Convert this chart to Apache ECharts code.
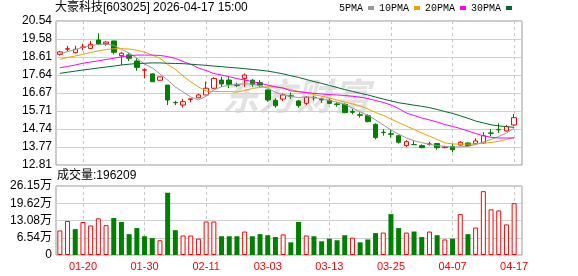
<!DOCTYPE html>
<html><head><meta charset="utf-8">
<script src="https://cdn.jsdelivr.net/npm/echarts@6/dist/echarts.min.js"></script>
<style>html,body{margin:0;padding:0;background:#fff}#c{width:578px;height:276px}</style>
</head><body><div id="c"></div>
<script>
const stockTitle = '大豪科技[603025] 2026-04-17 15:00';
const volTitle = '成交量:196209';
const maNames = ['5PMA', '10PMA', '20PMA', '30PMA'];
const dates = ['01-15','01-16','01-19','01-20','01-21','01-22','01-23','01-26','01-27','01-28',
 '01-29','01-30','02-02','02-03','02-04','02-05','02-06','02-09','02-10','02-11',
 '02-12','02-13','02-24','02-25','02-26','02-27','03-02','03-03','03-04','03-05',
 '03-06','03-09','03-10','03-11','03-12','03-13','03-16','03-17','03-18','03-19',
 '03-20','03-23','03-24','03-25','03-26','03-27','03-30','03-31','04-01','04-02',
 '04-03','04-07','04-08','04-09','04-10','04-13','04-14','04-15','04-16','04-17'];
const openP = [18.75,19.03,18.84,19.12,19.07,19.52,19.32,19.47,18.68,18.72,
 18.39,17.90,17.70,17.36,17.10,16.17,16.03,16.33,16.42,16.57,
 16.93,17.37,17.37,17.11,17.46,17.36,17.23,16.84,16.28,16.35,
 16.52,16.25,16.12,16.44,16.34,16.28,16.09,16.07,15.68,15.51,
 15.46,14.99,14.57,14.49,14.38,13.85,13.91,13.85,13.92,13.96,
 13.74,13.81,13.88,13.99,13.96,13.99,14.53,14.72,14.64,14.96];
const closeP = [18.88,19.05,19.02,19.14,19.29,19.30,19.41,18.86,18.81,18.54,
 18.05,17.92,17.28,17.54,16.30,16.15,16.21,16.36,16.57,16.93,
 17.46,17.16,17.14,17.09,17.64,17.14,17.10,16.30,15.99,16.57,
 16.50,16.00,16.45,16.42,16.31,16.12,16.06,15.62,15.64,15.48,
 15.14,14.28,14.55,14.46,14.03,14.06,13.90,13.74,13.94,13.74,
 13.79,13.63,14.03,13.85,14.10,14.38,14.51,14.70,14.87,15.35];
const lowP = [18.68,18.89,18.81,18.97,19.04,19.29,19.21,18.75,18.18,18.39,
 17.87,17.46,17.26,17.34,16.03,16.03,15.89,16.18,16.39,16.57,
 16.89,17.01,16.93,16.99,17.01,17.01,17.01,16.21,15.89,16.25,
 16.35,15.89,16.03,16.28,16.14,16.07,15.94,15.59,15.53,15.35,
 15.10,14.19,14.38,14.28,13.96,13.78,13.88,13.71,13.85,13.63,
 13.71,13.49,13.85,13.78,13.88,13.96,14.35,14.54,14.60,14.92];
const highP = [18.94,19.21,19.21,19.32,19.47,19.88,19.47,19.47,18.89,18.81,
 18.54,18.00,17.72,17.55,17.10,16.26,16.35,16.39,16.64,17.28,
 17.52,17.55,17.52,17.23,17.73,17.43,17.37,16.84,16.39,16.66,
 16.71,16.30,16.50,16.53,16.42,16.39,16.18,16.12,15.82,15.64,
 15.53,15.05,14.73,14.69,14.42,14.14,14.10,13.92,14.06,13.99,
 13.85,13.96,14.10,14.03,14.24,14.57,14.74,15.05,14.96,15.55];
const volume = [93000,129000,98000,125000,112000,139000,113000,140000,125000,79000,
 102000,71000,64000,56000,236000,94000,74000,74000,62000,127000,
 127000,71000,71000,71000,89000,71000,79000,75000,68000,78000,
 48000,125000,74000,71000,52000,62000,56000,75000,66000,48000,
 59000,83000,85000,155000,102000,85000,89000,68000,89000,75000,
 59000,62000,155000,79000,104000,242000,173000,169000,116000,196209];
const ma5 = [18.77,18.90,19.00,19.13,19.21,19.29,19.29,19.24,19.02,18.82,
 18.55,18.23,18.02,17.70,17.37,17.00,16.73,16.46,16.30,16.50,
 16.84,17.01,17.10,17.14,17.17,17.16,17.07,16.93,16.71,16.57,
 16.49,16.43,16.47,16.43,16.37,16.27,16.19,16.07,15.87,15.66,
 15.47,15.23,14.96,14.69,14.47,14.26,14.11,14.01,13.92,13.85,
 13.80,13.78,13.78,13.81,13.91,14.05,14.18,14.34,14.53,14.78];
const ma10 = [18.48,18.58,18.66,18.75,18.85,18.93,19.01,19.05,19.05,19.04,
 18.97,18.87,18.71,18.54,18.21,17.94,17.59,17.27,17.00,16.78,
 16.76,16.75,16.75,16.73,16.81,16.92,16.97,17.01,17.00,16.94,
 16.86,16.76,16.69,16.59,16.50,16.41,16.30,16.19,16.09,15.98,
 15.82,15.63,15.47,15.28,15.09,14.90,14.72,14.53,14.36,14.18,
 14.00,13.94,13.93,13.93,13.94,13.98,14.02,14.08,14.18,14.30];
const ma20 = [18.03,18.10,18.18,18.27,18.34,18.40,18.47,18.54,18.62,18.67,
 18.71,18.71,18.71,18.69,18.63,18.53,18.37,18.21,18.02,17.88,
 17.72,17.64,17.55,17.45,17.37,17.29,17.20,17.10,17.01,16.94,
 16.79,16.74,16.70,16.66,16.62,16.59,16.57,16.54,16.50,16.45,
 16.38,16.27,16.17,16.03,15.84,15.60,15.47,15.33,15.23,15.12,
 14.98,14.88,14.77,14.64,14.50,14.38,14.30,14.26,14.26,14.26];
const ma30 = [17.73,17.79,17.85,17.91,17.96,18.02,18.07,18.12,18.18,18.22,
 18.26,18.27,18.29,18.29,18.27,18.26,18.25,18.22,18.19,18.16,
 18.12,18.09,18.05,18.02,17.98,17.94,17.90,17.85,17.78,17.70,
 17.60,17.51,17.40,17.29,17.19,17.08,16.97,16.86,16.76,16.66,
 16.57,16.46,16.35,16.25,16.15,16.09,16.02,15.96,15.89,15.79,
 15.68,15.58,15.45,15.32,15.17,15.07,14.97,14.91,14.87,14.83];
const priceTicks = ['12.81','13.77','14.74','15.71','16.67','17.64','18.61','19.58','20.54'];
const volTicks = ['0','6.54万','13.08万','19.62万','26.15万'];
const priceMin = 12.81, priceMax = 20.54, volMax = 261500;

const FONT = '"Liberation Sans","Noto Sans CJK SC",sans-serif';
const chart = echarts.init(document.getElementById('c'), null, {renderer: 'canvas'});
const candleData = dates.map((d, i) => [openP[i], closeP[i], lowP[i], highP[i]]);
const volData = volume.map((v, i) => {
  const up = i === 0 ? true : closeP[i] >= closeP[i - 1];
  return {value: v, itemStyle: up ? {color: '#fff', borderColor: '#ff0000', borderWidth: 1}
                                   : {color: '#008000', borderColor: '#008000', borderWidth: 0}};
});
const showIdx = (i) => i % 8 === 3;
const dashSplit = {show: true, interval: showIdx, alignWithLabel: true, lineStyle: {color: '#c8c8c8', type: [3, 3], width: 1}};
const maColors = ['#9a9a9a', '#f0a000', '#ff00ff', '#006a33'];
const maData = [ma5, ma10, ma20, ma30];

chart.setOption({
  animation: false,
  backgroundColor: '#fff',
  title: [
    {text: stockTitle, left: 55, top: 2, padding: 0, textStyle: {fontSize: 12, fontWeight: 'normal', color: '#000', fontFamily: FONT}},
    {text: volTitle, left: 57, top: 170, padding: 0, textStyle: {fontSize: 12, fontWeight: 'normal', color: '#000', fontFamily: FONT}}
  ],
  legend: {
    data: maNames, left: 339, top: 3, padding: 0, align: 'right', icon: 'rect',
    itemWidth: 6, itemHeight: 4, itemGap: 5,
    textStyle: {fontSize: 10, color: '#000', fontFamily: '"Liberation Mono",monospace'}
  },
  graphic: [{
    type: 'text', left: 222, top: 77, silent: true, z: 0,
    style: {text: '东方财富', font: 'italic bold 37px "Noto Sans CJK SC"', fill: '#e2e2e2'}
  }],
  grid: [
    {left: 56, top: 21, width: 466, height: 144, show: true, borderColor: '#999', borderWidth: 1, backgroundColor: 'transparent'},
    {left: 56, top: 21, width: 462, height: 144},
    {left: 56, top: 186, width: 466, height: 69, show: true, borderColor: '#999', borderWidth: 1, backgroundColor: 'transparent'},
    {left: 56, top: 186, width: 462, height: 69}
  ],
  xAxis: [
    {type: 'category', gridIndex: 0, data: dates, show: false},
    {type: 'category', gridIndex: 1, data: dates, axisLine: {show: false}, axisTick: {show: false}, axisLabel: {show: false}, splitLine: dashSplit},
    {type: 'category', gridIndex: 2, data: dates, show: false},
    {type: 'category', gridIndex: 3, data: dates, axisLine: {show: false}, axisTick: {show: false},
     axisLabel: {interval: showIdx, color: '#ff0000', fontSize: 11, fontFamily: FONT, margin: 6}, splitLine: dashSplit}
  ],
  yAxis: [
    {type: 'value', gridIndex: 0, min: 0, max: priceTicks.length - 1, interval: 1,
     axisLine: {show: false}, axisTick: {show: false},
     axisLabel: {formatter: (v) => priceTicks[Math.round(v)], color: '#000', fontSize: 12, fontFamily: FONT, margin: 4},
     splitLine: {lineStyle: {color: '#cfcfcf', width: 1}}},
    {type: 'value', gridIndex: 1, min: priceMin, max: priceMax, show: false},
    {type: 'value', gridIndex: 2, min: 0, max: volTicks.length - 1, interval: 1,
     axisLine: {show: false}, axisTick: {show: false},
     axisLabel: {formatter: (v) => volTicks[Math.round(v)], color: '#000', fontSize: 12, fontFamily: FONT, margin: 4},
     splitLine: {lineStyle: {color: '#cfcfcf', width: 1}}},
    {type: 'value', gridIndex: 3, min: 0, max: volMax, show: false}
  ],
  series: [
    {type: 'candlestick', xAxisIndex: 1, yAxisIndex: 1, data: candleData, barWidth: 5,
     itemStyle: {color: '#ffffff', color0: '#008000', borderColor: '#ff0000', borderColor0: '#008000', borderWidth: 1}},
    ...maNames.map((n, k) => ({
      type: 'line', name: n, xAxisIndex: 1, yAxisIndex: 1, data: maData[k], symbol: 'none',
      lineStyle: {width: 1, color: maColors[k]}, itemStyle: {color: maColors[k]}
    })),
    {type: 'bar', xAxisIndex: 3, yAxisIndex: 3, data: volData, barWidth: 5}
  ]
});
</script></body></html>
